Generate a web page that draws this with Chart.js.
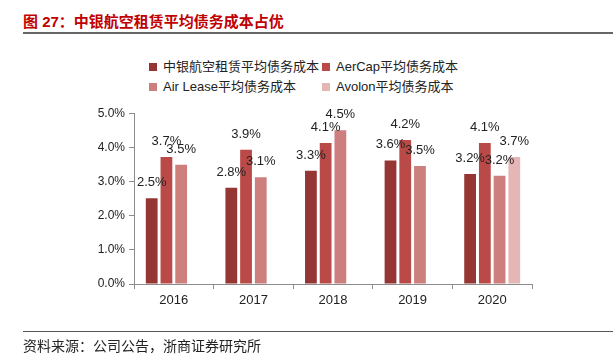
<!DOCTYPE html>
<html>
<head>
<meta charset="utf-8">
<script src="https://cdn.jsdelivr.net/npm/chart.js@4"></script>
<style>
  html, body { margin:0; padding:0; background:#fff; }
  body { width:616px; height:354px; position:relative; overflow:hidden;
         font-family:"Liberation Sans","Noto Sans CJK SC",sans-serif; }
  #title { position:absolute; left:23px; top:10px; font-size:15px; font-weight:bold;
           color:#C00000; font-family:"Liberation Sans","Noto Sans CJK SC",sans-serif; white-space:nowrap; }
  #topRule { position:absolute; left:23px; top:32px; width:590px; height:2px; background:#666; }
  #botRule { position:absolute; left:23px; top:331px; width:590px; height:1px; background:#555; }
  #source { position:absolute; left:23px; top:337px; font-size:14px; color:#222; white-space:nowrap;
            font-family:"Noto Sans CJK SC",sans-serif; line-height:16px; }
  #chart { position:absolute; left:0; top:0; }
  .lg { position:absolute; font-size:13px; color:#222; white-space:nowrap; line-height:16px; }
  .lg i { position:absolute; width:8px; height:8px; left:-14px; top:4px; }
</style>
</head>
<body>
<div id="title">图 27：中银航空租赁平均债务成本占优</div>
<div id="topRule"></div>
<div id="legend"></div>
<canvas id="chart" width="616" height="354"></canvas>
<div id="botRule"></div>
<div id="source">资料来源：公司公告，浙商证券研究所</div>
<script>
/* ---------- data ---------- */
const years = ["2016", "2017", "2018", "2019", "2020"];
const seriesNames = ["中银航空租赁平均债务成本", "AerCap平均债务成本", "Air Lease平均债务成本", "Avolon平均债务成本"];
const bocAviation = [2.51, 2.82, 3.32, 3.62, 3.22];
const aerCap      = [3.72, 3.93, 4.13, 4.22, 4.13];
const airLease    = [3.49, 3.13, 4.50, 3.46, 3.17];
const avolon      = [null, null, null, null, 3.72];
const yTicks = [0, 1, 2, 3, 4, 5];

const colors = ["#963634", "#BA4A47", "#CD7F7E", "#E4B6B6"];
const allSeries = [bocAviation, aerCap, airLease, avolon];

/* ---------- legend (2 x 2 grid) ---------- */
const legendPos = [[163, 59], [336, 59], [163, 78.5], [336, 78.5]];
const lg = document.getElementById("legend");
seriesNames.forEach((name, i) => {
  const d = document.createElement("div");
  d.className = "lg";
  d.style.left = legendPos[i][0] + "px";
  d.style.top  = legendPos[i][1] + "px";
  d.innerHTML = `<i style="background:${colors[i]}"></i>${name}`;
  lg.appendChild(d);
});

/* ---------- value labels above bars ---------- */
const valueLabels = {
  id: "valueLabels",
  afterDatasetsDraw(chart) {
    const ctx = chart.ctx;
    ctx.save();
    ctx.font = '13px "Liberation Sans", Arial, sans-serif';
    ctx.fillStyle = "#222";
    ctx.textAlign = "center";
    ctx.textBaseline = "alphabetic";
    chart.data.datasets.forEach((ds, i) => {
      chart.getDatasetMeta(i).data.forEach((bar, j) => {
        const v = ds.data[j];
        if (v == null) return;
        ctx.fillText(v.toFixed(1) + "%", bar.x, bar.y - 12);
      });
    });
    ctx.restore();
  }
};

/* ---------- chart ---------- */
const axisGrey = "#8c8c8c";
new Chart(document.getElementById("chart").getContext("2d"), {
  type: "bar",
  data: {
    labels: years,
    datasets: allSeries.map((s, i) => ({
      label: seriesNames[i],
      data: s,
      backgroundColor: colors[i],
      borderWidth: 0,
      categoryPercentage: 0.74,
      barPercentage: 0.8
    }))
  },
  options: {
    responsive: false,
    animation: false,
    layout: { padding: { left: 0, right: 84, top: 113.3, bottom: 0 } },
    plugins: { legend: { display: false }, tooltip: { enabled: false } },
    scales: {
      x: {
        afterFit: s => { s.height = 70; },
        grid: { offset: true, drawOnChartArea: false, drawTicks: true, tickLength: 5, color: axisGrey },
        border: { display: true, color: axisGrey, width: 1 },
        ticks: { padding: 4, color: "#222", font: { family: "Liberation Sans", size: 13 } }
      },
      y: {
        min: 0, max: 5,
        afterFit: s => { s.width = 134; },
        afterBuildTicks: s => { s.ticks = yTicks.map(v => ({ value: v })); },
        grid: { drawOnChartArea: false, drawTicks: true, tickLength: 5, color: axisGrey },
        border: { display: true, color: axisGrey, width: 1 },
        ticks: {
          padding: 4, color: "#222",
          font: { family: "Liberation Sans", size: 12 },
          callback: v => v.toFixed(1) + "%"
        }
      }
    }
  },
  plugins: [valueLabels]
});
</script>
</body>
</html>
